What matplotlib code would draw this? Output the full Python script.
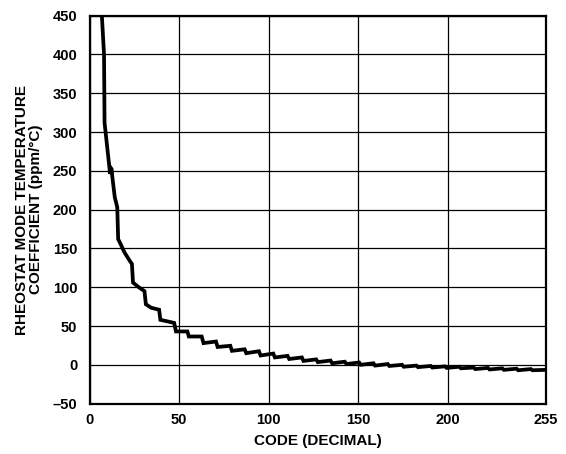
import matplotlib
matplotlib.use('Agg')
import matplotlib.pyplot as plt

# breakpoints (code, tempco in ppm/C)
codes = [6.6, 8.0, 8.3, 11.4, 11.7, 12.3, 12.6, 14.0, 15.4, 15.9, 17.4, 19.4, 22.4, 23.6,
         24.2, 27.4, 30.6, 31.4, 34.4, 38.8, 39.5, 43.4, 47.2, 48.2, 54.6, 55.4, 62.6,
         63.6, 70.6, 71.5, 78.6, 79.5, 86.6, 87.5, 94.6, 95.5, 102.6, 103.5, 110.6, 111.5,
         118.6, 119.5, 126.6, 127.5, 134.6, 135.5, 142.6, 143.5, 150.6, 151.5, 158.6, 159.5,
         166.6, 167.5, 174.6, 175.5, 182.6, 183.5, 190.6, 191.5, 198.6, 199.5, 206.6, 207.5,
         214.6, 215.5, 222.6, 223.5, 230.6, 231.5, 238.6, 239.5, 246.6, 247.5, 255]
tempco = [458, 400, 312, 246, 254, 252, 243, 216, 203, 162, 155, 145, 134, 130,
          106, 100, 95, 78, 73.5, 71, 58, 56, 54, 43, 43, 36.5, 36.5,
          28, 30, 23, 24.5, 18, 20, 15, 17.5, 12, 14.5, 9.5, 11.5, 7.5,
          9.5, 5, 7, 3.5, 5.5, 2, 4, 1, 3, 0, 2, -1,
          1, -1.5, 0, -2.5, -1, -3, -1.5, -3.5, -2, -4, -2.5, -4.5,
          -3.5, -5.5, -4, -6, -4.5, -6.5, -5, -7, -5.5, -7, -6.5]

xticks = [0, 50, 100, 150, 200, 255]
yticks = [-50, 0, 50, 100, 150, 200, 250, 300, 350, 400, 450]
ytick_labels = ['\u201350', '0', '50', '100', '150', '200', '250', '300', '350', '400', '450']

plt.rcParams['font.family'] = ['Liberation Sans', 'DejaVu Sans']
plt.rcParams['font.weight'] = 'bold'

fig = plt.figure(figsize=(5.66, 4.54), dpi=100)
ax = fig.add_axes([0.1585, 0.111, 0.806, 0.8545])

ax.plot(codes, tempco, color='black', lw=2.7, solid_joinstyle='miter', zorder=3)

ax.set_xlim(0, 255)
ax.set_ylim(-50, 450)
ax.set_xticks(xticks)
ax.set_yticks(yticks)
ax.set_yticklabels(ytick_labels)
ax.tick_params(length=0, labelsize=10.5)
ax.tick_params(axis='y', pad=9)
ax.tick_params(axis='x', pad=7)
ax.grid(True, color='black', lw=0.9)
for s in ax.spines.values():
    s.set_linewidth(1.6)

ax.set_xlabel('CODE (DECIMAL)', fontsize=11, fontweight='bold', labelpad=5)
ax.set_ylabel('RHEOSTAT MODE TEMPERATURE\nCOEFFICIENT (ppm/\u00b0C)', fontsize=11,
              fontweight='bold', labelpad=7, linespacing=0.95)

fig.savefig('out.png', dpi=100)
